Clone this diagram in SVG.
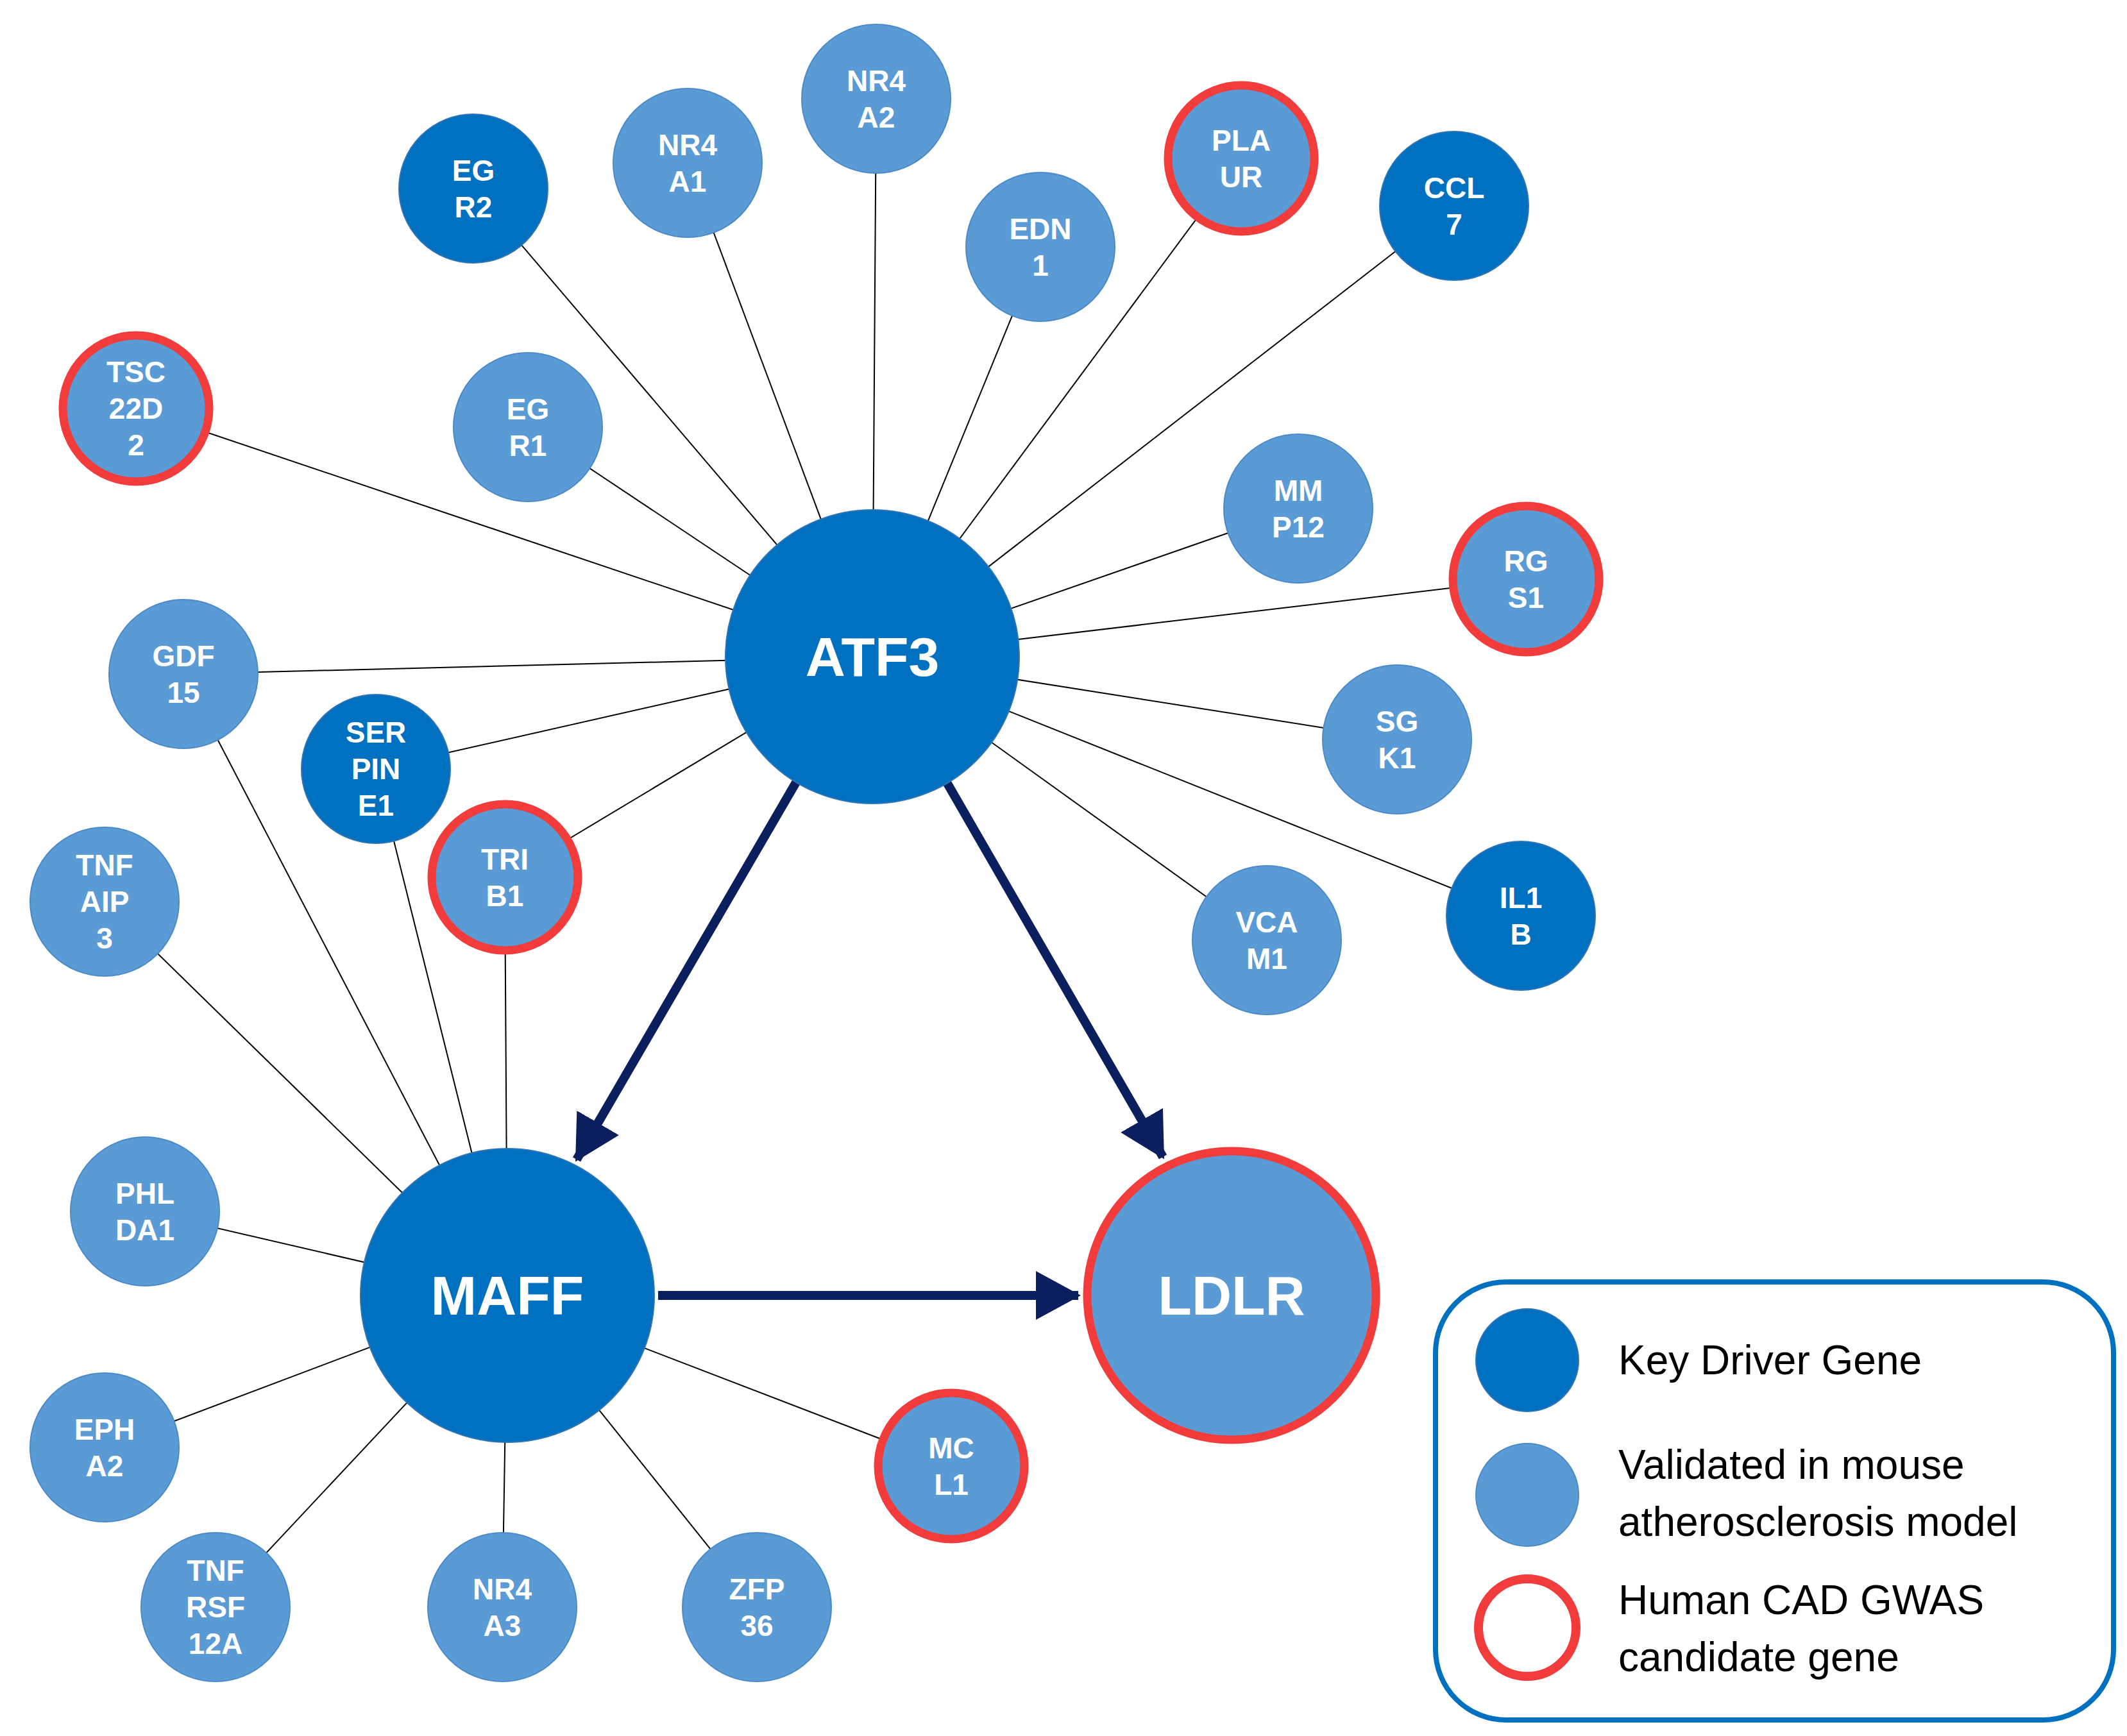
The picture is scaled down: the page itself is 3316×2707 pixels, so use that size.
<svg xmlns="http://www.w3.org/2000/svg" width="3316" height="2707" viewBox="0 0 3316 2707">
<style>
.e{stroke:#000;stroke-width:2}
.a{stroke:#0b1f5e;stroke-width:14;fill:none}
.d{fill:#0070c0;stroke:#2e75b6;stroke-width:2}
.l{fill:#5b9bd5;stroke:#4a8ac8;stroke-width:2}
.r{stroke:#f23b3b;stroke-width:13}
text{font-family:"Liberation Sans",Arial,sans-serif;fill:#fff;font-weight:bold;text-anchor:middle;dominant-baseline:central}
.t{font-size:46px}
.big{font-size:86px}
.lg{fill:#000;font-weight:normal;text-anchor:start;font-size:64px}
</style>
<defs>
<marker id="ah" markerUnits="userSpaceOnUse" markerWidth="80" markerHeight="80" refX="66" refY="38" orient="auto">
<path d="M0,0 L70,38 L0,76 Z" fill="#0b1f5e"/>
</marker>
</defs>
<g id="connectors">
<g>
<line class="e" x1="1360" y1="1024" x2="738" y2="294"/>
<line class="e" x1="1360" y1="1024" x2="1072" y2="254"/>
<line class="e" x1="1360" y1="1024" x2="1366" y2="154"/>
<line class="e" x1="1360" y1="1024" x2="1935" y2="247"/>
<line class="e" x1="1360" y1="1024" x2="1622" y2="385"/>
<line class="e" x1="1360" y1="1024" x2="2267" y2="321"/>
<line class="e" x1="1360" y1="1024" x2="212" y2="637"/>
<line class="e" x1="1360" y1="1024" x2="823" y2="666"/>
<line class="e" x1="1360" y1="1024" x2="2024" y2="793"/>
<line class="e" x1="1360" y1="1024" x2="2379" y2="903"/>
<line class="e" x1="1360" y1="1024" x2="286" y2="1051"/>
<line class="e" x1="1360" y1="1024" x2="586" y2="1199"/>
<line class="e" x1="1360" y1="1024" x2="787" y2="1368"/>
<line class="e" x1="1360" y1="1024" x2="2178" y2="1153"/>
<line class="e" x1="1360" y1="1024" x2="1975" y2="1466"/>
<line class="e" x1="1360" y1="1024" x2="2371" y2="1428"/>
<line class="e" x1="791" y1="2020" x2="286" y2="1051"/>
<line class="e" x1="791" y1="2020" x2="586" y2="1199"/>
<line class="e" x1="791" y1="2020" x2="787" y2="1368"/>
<line class="e" x1="791" y1="2020" x2="163" y2="1406"/>
<line class="e" x1="791" y1="2020" x2="226" y2="1889"/>
<line class="e" x1="791" y1="2020" x2="163" y2="2257"/>
<line class="e" x1="791" y1="2020" x2="336" y2="2506"/>
<line class="e" x1="791" y1="2020" x2="783" y2="2506"/>
<line class="e" x1="791" y1="2020" x2="1180" y2="2506"/>
<line class="e" x1="791" y1="2020" x2="1483" y2="2286"/>
</g>
<line class="a" x1="1241" y1="1220" x2="899" y2="1808" marker-end="url(#ah)"/>
<line class="a" x1="1476" y1="1220" x2="1813" y2="1804" marker-end="url(#ah)"/>
<line class="a" x1="1026" y1="2020" x2="1681" y2="2020" marker-end="url(#ah)"/>
</g>
<g id="ATF3"><circle class="d" cx="1360" cy="1024" r="229"/><text class="big" x="1360" y="1024">ATF3</text></g>
<g id="MAFF"><circle class="d" cx="791" cy="2020" r="229"/><text class="big" x="791" y="2020">MAFF</text></g>
<g id="LDLR"><circle class="l r" cx="1920" cy="2020" r="225"/><text class="big" x="1920" y="2020">LDLR</text></g>
<g id="EGR2"><circle class="d" cx="738" cy="294" r="116"/><text class="t" x="738" y="266">EG</text><text class="t" x="738" y="323">R2</text></g>
<g id="NR4A1"><circle class="l" cx="1072" cy="254" r="116"/><text class="t" x="1072" y="226">NR4</text><text class="t" x="1072" y="283">A1</text></g>
<g id="NR4A2"><circle class="l" cx="1366" cy="154" r="116"/><text class="t" x="1366" y="126">NR4</text><text class="t" x="1366" y="183">A2</text></g>
<g id="PLAUR"><circle class="l r" cx="1935" cy="247" r="114"/><text class="t" x="1935" y="219">PLA</text><text class="t" x="1935" y="276">UR</text></g>
<g id="EDN1"><circle class="l" cx="1622" cy="385" r="116"/><text class="t" x="1622" y="357">EDN</text><text class="t" x="1622" y="414">1</text></g>
<g id="CCL7"><circle class="d" cx="2267" cy="321" r="116"/><text class="t" x="2267" y="293">CCL</text><text class="t" x="2267" y="350">7</text></g>
<g id="TSC22D2"><circle class="l r" cx="212" cy="637" r="114"/><text class="t" x="212" y="580">TSC</text><text class="t" x="212" y="637">22D</text><text class="t" x="212" y="694">2</text></g>
<g id="EGR1"><circle class="l" cx="823" cy="666" r="116"/><text class="t" x="823" y="638">EG</text><text class="t" x="823" y="695">R1</text></g>
<g id="MMP12"><circle class="l" cx="2024" cy="793" r="116"/><text class="t" x="2024" y="765">MM</text><text class="t" x="2024" y="822">P12</text></g>
<g id="RGS1"><circle class="l r" cx="2379" cy="903" r="114"/><text class="t" x="2379" y="875">RG</text><text class="t" x="2379" y="932">S1</text></g>
<g id="GDF15"><circle class="l" cx="286" cy="1051" r="116"/><text class="t" x="286" y="1023">GDF</text><text class="t" x="286" y="1080">15</text></g>
<g id="SERPINE1"><circle class="d" cx="586" cy="1199" r="116"/><text class="t" x="586" y="1142">SER</text><text class="t" x="586" y="1199">PIN</text><text class="t" x="586" y="1256">E1</text></g>
<g id="TRIB1"><circle class="l r" cx="787" cy="1368" r="114"/><text class="t" x="787" y="1340">TRI</text><text class="t" x="787" y="1397">B1</text></g>
<g id="SGK1"><circle class="l" cx="2178" cy="1153" r="116"/><text class="t" x="2178" y="1125">SG</text><text class="t" x="2178" y="1182">K1</text></g>
<g id="TNFAIP3"><circle class="l" cx="163" cy="1406" r="116"/><text class="t" x="163" y="1349">TNF</text><text class="t" x="163" y="1406">AIP</text><text class="t" x="163" y="1463">3</text></g>
<g id="VCAM1"><circle class="l" cx="1975" cy="1466" r="116"/><text class="t" x="1975" y="1438">VCA</text><text class="t" x="1975" y="1495">M1</text></g>
<g id="IL1B"><circle class="d" cx="2371" cy="1428" r="116"/><text class="t" x="2371" y="1400">IL1</text><text class="t" x="2371" y="1457">B</text></g>
<g id="PHLDA1"><circle class="l" cx="226" cy="1889" r="116"/><text class="t" x="226" y="1861">PHL</text><text class="t" x="226" y="1918">DA1</text></g>
<g id="EPHA2"><circle class="l" cx="163" cy="2257" r="116"/><text class="t" x="163" y="2229">EPH</text><text class="t" x="163" y="2286">A2</text></g>
<g id="TNFRSF12A"><circle class="l" cx="336" cy="2506" r="116"/><text class="t" x="336" y="2449">TNF</text><text class="t" x="336" y="2506">RSF</text><text class="t" x="336" y="2563">12A</text></g>
<g id="NR4A3"><circle class="l" cx="783" cy="2506" r="116"/><text class="t" x="783" y="2478">NR4</text><text class="t" x="783" y="2535">A3</text></g>
<g id="ZFP36"><circle class="l" cx="1180" cy="2506" r="116"/><text class="t" x="1180" y="2478">ZFP</text><text class="t" x="1180" y="2535">36</text></g>
<g id="MCL1"><circle class="l r" cx="1483" cy="2286" r="114"/><text class="t" x="1483" y="2258">MC</text><text class="t" x="1483" y="2315">L1</text></g>
<g id="legend">
<rect x="2238" y="1999" width="1057" height="683" rx="110" fill="#fff" stroke="#0070c0" stroke-width="8"/>
<circle class="d" cx="2381" cy="2121" r="80"/>
<circle class="l" cx="2381" cy="2331" r="80"/>
<circle cx="2381" cy="2538" r="76" fill="#fff" stroke="#f23b3b" stroke-width="14"/>
<text class="lg" x="2523" y="2121">Key Driver  Gene</text>
<text class="lg" x="2523" y="2284">Validated in mouse</text>
<text class="lg" x="2523" y="2373">atherosclerosis model</text>
<text class="lg" x="2523" y="2495">Human CAD GWAS</text>
<text class="lg" x="2523" y="2584">candidate gene</text>
</g>
</svg>
